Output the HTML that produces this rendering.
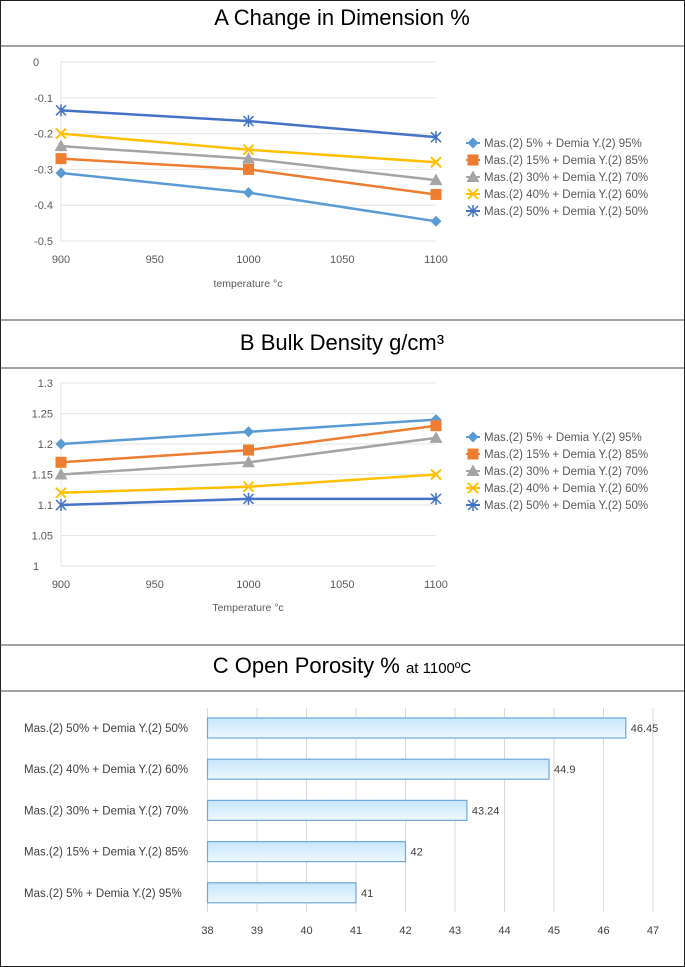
<!DOCTYPE html>
<html><head><meta charset="utf-8"><style>
body{margin:0;background:#fff;font-family:"Liberation Sans",sans-serif}
svg{display:block}
</style></head><body>
<svg width="685" height="967" id="fig" font-family="Liberation Sans, sans-serif">
<rect x="0.5" y="0.5" width="684" height="966" fill="#fff" stroke="#222"/>
<line x1="0" y1="46" x2="685" y2="46" stroke="#444"/>
<line x1="0" y1="320" x2="685" y2="320" stroke="#444"/>
<line x1="0" y1="368" x2="685" y2="368" stroke="#444"/>
<line x1="0" y1="645" x2="685" y2="645" stroke="#444"/>
<line x1="0" y1="691" x2="685" y2="691" stroke="#444"/>
<text x="342" y="25" font-size="22" text-anchor="middle">A  Change in Dimension %</text>
<text x="342" y="350" font-size="22" text-anchor="middle">B  Bulk Density g/cm³</text>
<text x="342" y="673" font-size="22" text-anchor="middle">C  Open Porosity % <tspan font-size="15">at 1100ºC</tspan></text>
<g id="ga"></g><g id="gb"></g><g id="gc"></g>
</svg>
<script>
const temps=[900,1000,1100];
const seriesNames=["Mas.(2) 5% + Demia Y.(2) 95%","Mas.(2) 15% + Demia Y.(2) 85%","Mas.(2) 30% + Demia Y.(2) 70%","Mas.(2) 40% + Demia Y.(2) 60%","Mas.(2) 50% + Demia Y.(2) 50%"];
const dimS1=[-0.31,-0.365,-0.445];
const dimS2=[-0.27,-0.30,-0.37];
const dimS3=[-0.235,-0.27,-0.33];
const dimS4=[-0.20,-0.245,-0.28];
const dimS5=[-0.135,-0.165,-0.21];
const dimTicks=[0,-0.1,-0.2,-0.3,-0.4,-0.5];
const denS1=[1.20,1.22,1.24];
const denS2=[1.17,1.19,1.23];
const denS3=[1.15,1.17,1.21];
const denS4=[1.12,1.13,1.15];
const denS5=[1.10,1.11,1.11];
const denTicks=[1.3,1.25,1.2,1.15,1.1,1.05,1];
const xTicks=[900,950,1000,1050,1100];
const porCats=["Mas.(2) 50% + Demia Y.(2) 50%","Mas.(2) 40% + Demia Y.(2) 60%","Mas.(2) 30% + Demia Y.(2) 70%","Mas.(2) 15% + Demia Y.(2) 85%","Mas.(2) 5% + Demia Y.(2) 95%"];
const porVals=[46.45,44.9,43.24,42,41];
const porTicks=[38,39,40,41,42,43,44,45,46,47];
const colors=["#5b9bd5","#ed7d31","#a5a5a5","#ffc000","#4472c4"];
const markers=["diamond","square","triangle","x","star"];
const NS="http://www.w3.org/2000/svg";
function mk(p,t,a,txt){const e=document.createElementNS(NS,t);for(const k in a)e.setAttribute(k,a[k]);if(txt!==undefined)e.textContent=txt;p.appendChild(e);return e;}
function marker(g,type,x,y,c){
 let e;
 if(type=="diamond")e=mk(g,"polygon",{points:`${x},${y-5.5} ${x+5.5},${y} ${x},${y+5.5} ${x-5.5},${y}`,fill:c});
 else if(type=="square")e=mk(g,"rect",{x:x-5.5,y:y-5.5,width:11,height:11,fill:c});
 else if(type=="triangle")e=mk(g,"polygon",{points:`${x},${y-6.5} ${x+6.5},${y+5} ${x-6.5},${y+5}`,fill:c});
 else if(type=="x")e=mk(g,"path",{d:`M${x-5},${y-5}L${x+5},${y+5}M${x+5},${y-5}L${x-5},${y+5}`,stroke:c,"stroke-width":2});
 else e=mk(g,"path",{d:`M${x-5},${y-5}L${x+5},${y+5}M${x+5},${y-5}L${x-5},${y+5}M${x},${y-6}L${x},${y+6}`,stroke:c,"stroke-width":1.5});
 
 
}
function lineChart(gid,series,ticks,ymax,ymin,yTop,yBot,legTop,xlabel,xlabY){
 const g=document.getElementById(gid);
 const x0=61,x1=436;
 const sx=v=>x0+(v-900)/200*(x1-x0);
 const sy=v=>yTop+(ymax-v)/(ymax-ymin)*(yBot-yTop);
 ticks.forEach(t=>{
  const l=mk(g,"line",{x1:x0,x2:x1,y1:sy(t),y2:sy(t),stroke:"#e6e6e6"});
  
  
  const anchor=(t===0||t===1)?"start":"end";
  const tx=mk(g,"text",{x:anchor=="start"?33:53,y:sy(t)+4,"font-size":11,fill:"#595959","text-anchor":anchor},t);
  
  
 });
 const ax=mk(g,"line",{x1:x0,x2:x0,y1:yTop,y2:yBot,stroke:"#e6e6e6"});
 
 
 xTicks.forEach(t=>{
  const tx=mk(g,"text",{x:sx(t),y:yBot+22,"font-size":11,fill:"#595959","text-anchor":"middle"},t);
  
  
 });
 const xl=mk(g,"text",{x:248,y:xlabY,"font-size":10.5,fill:"#595959","text-anchor":"middle"},xlabel);
 
 
 series.forEach((s,i)=>{
  const pl=mk(g,"polyline",{points:s.map((v,j)=>sx(temps[j])+","+sy(v)).join(" "),fill:"none",stroke:colors[i],"stroke-width":2.5});
  
  
  s.forEach((v,j)=>marker(g,markers[i],sx(temps[j]),sy(v),colors[i]));
  const ly=legTop+i*17;
  mk(g,"line",{x1:466,x2:480,y1:ly,y2:ly,stroke:colors[i],"stroke-width":2});
  marker(g,markers[i],473,ly,colors[i]);
  const lt=mk(g,"text",{x:484,y:ly+4,"font-size":11.5,fill:"#595959"},seriesNames[i]);
  
  
 });
}
lineChart("ga",[dimS1,dimS2,dimS3,dimS4,dimS5],dimTicks,0,-0.5,62,241,143,"temperature °c",287);
lineChart("gb",[denS1,denS2,denS3,denS4,denS5],denTicks,1.3,1,383,566,437,"Temperature  °c",611);
(function(){
 const g=document.getElementById("gc");
 const x0=207.5,x1=653,mn=38,mx=47;
 const sx=v=>x0+(v-mn)/(mx-mn)*(x1-x0);
 porTicks.forEach(t=>{
  const l=mk(g,"line",{x1:sx(t),x2:sx(t),y1:708,y2:912,stroke:"#d9d9d9"});
  
  
  const tx=mk(g,"text",{x:sx(t),y:934,"font-size":11,fill:"#404040","text-anchor":"middle"},t);
  
  
 });
 const d=mk(document.getElementById("fig"),"defs",{});
 const gr=mk(d,"linearGradient",{id:"bg",x1:0,y1:0,x2:0,y2:1});
 mk(gr,"stop",{offset:"0","stop-color":"#c7e6fa"});
 mk(gr,"stop",{offset:"1","stop-color":"#eef8ff"});
 porVals.forEach((v,i)=>{
  const y=718+i*41.2;
  const r=mk(g,"rect",{x:x0,y:y,width:sx(v)-x0,height:20,fill:"url(#bg)",stroke:"#6fa8dc","stroke-width":1.2});
  
  
  const vt=mk(g,"text",{x:sx(v)+5,y:y+14,"font-size":11,fill:"#404040"},v);
  
  
  const ct=mk(g,"text",{x:24,y:y+14,"font-size":11.5,fill:"#404040"},porCats[i]);
  
  
 });
})();
</script>
</body></html>
